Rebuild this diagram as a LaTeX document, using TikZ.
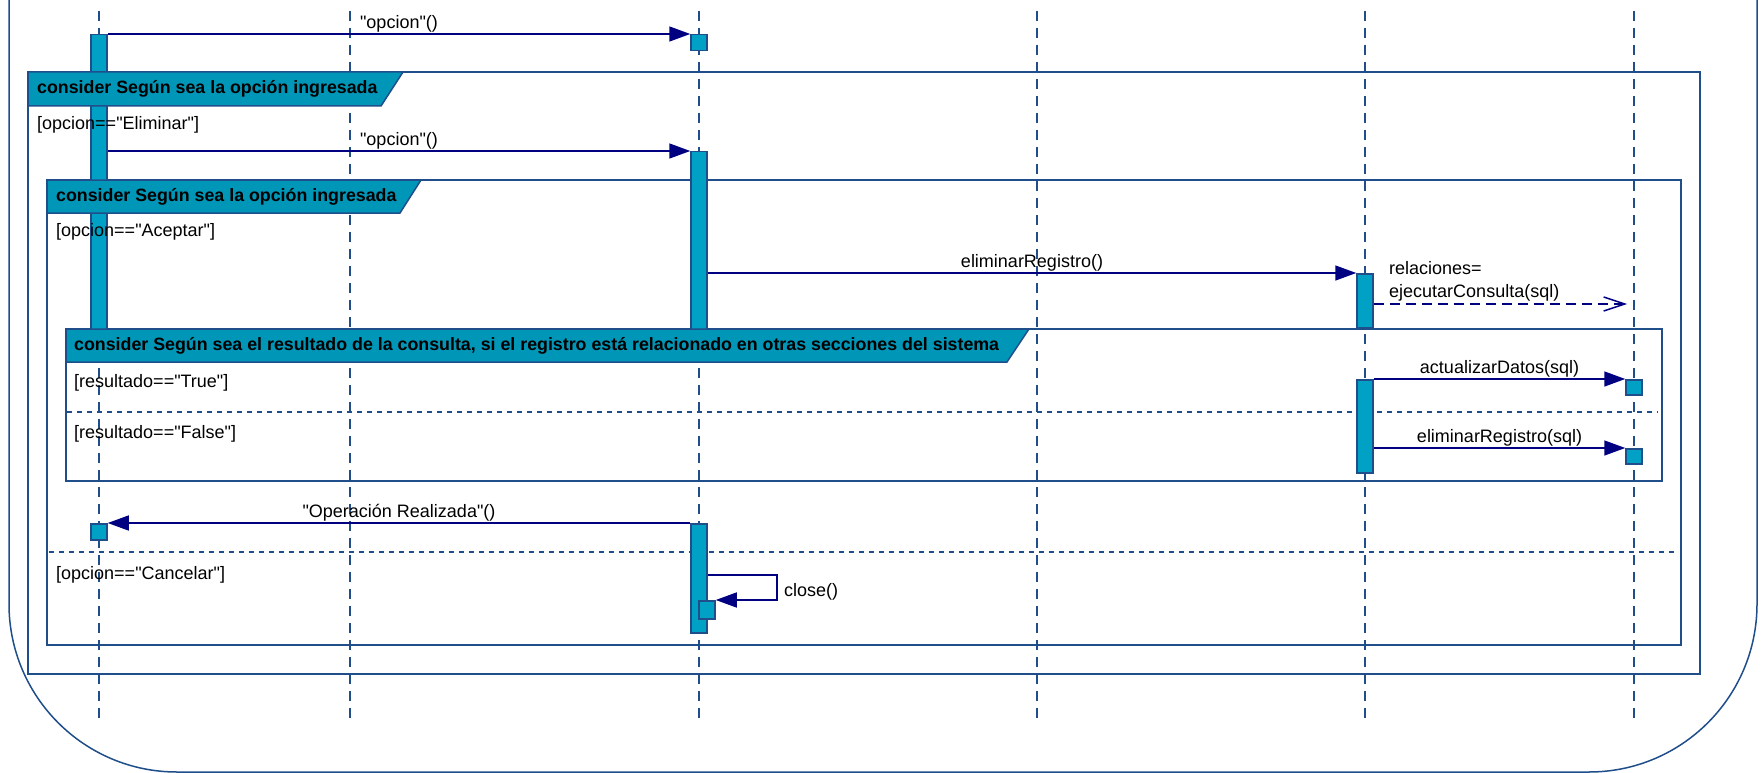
\documentclass[tikz,border=0pt]{standalone}
\usepackage{fontspec}
\setmainfont{Liberation Sans}
\usetikzlibrary{arrows.meta,positioning,calc}
\definecolor{linecol}{RGB}{31,78,138}
\definecolor{msgcol}{RGB}{0,0,128}
\definecolor{actfill}{RGB}{0,161,196}
\definecolor{tabfill}{RGB}{0,150,184}
\newcommand{\q}{\textquotedbl}

\begin{document}
\begin{tikzpicture}[
        x=1pt, y=-1pt,
        font=\fontsize{18}{23}\selectfont,
        lifeline/.style={draw=linecol, line width=1.5pt, dash pattern=on 10pt off 7pt},
        frame/.style={draw=linecol, line width=2pt},
        tab/.style={draw=linecol, line width=1.5pt, fill=tabfill},
        tablbl/.style={anchor=west, inner sep=0pt, font=\fontsize{17.8}{20}\selectfont\bfseries},
        guard/.style={anchor=west, inner sep=0pt},
        sep/.style={draw=linecol, line width=1.5pt, dash pattern=on 5pt off 5pt},
        actbar/.style={draw=linecol, line width=1.5pt, fill=actfill, minimum width=16pt, inner sep=0pt, anchor=north},
        msg/.style={draw=msgcol, line width=1.5pt, -{Triangle[length=21pt,width=15pt]}},
        ret/.style={draw=msgcol, line width=1.5pt, dash pattern=on 10pt off 6pt, -{Straight Barb[length=21pt,width=14pt]}},
        lbl/.style={inner sep=1pt}
    ]
    \useasboundingbox (0,0) rectangle (1762,773);

    % lifelines
    \foreach \n/\x in {1/99, 2/350, 3/699, 4/1037, 5/1365, 6/1634} {
        \coordinate (top\n) at (\x,11);
        \coordinate (bot\n) at (\x,720);
        \draw[lifeline] (top\n) -- (bot\n);
    }

    % outer border and combined fragments
    \draw[frame, line width=1.5pt, rounded corners=168pt] (9,-20) -- (9,772) -- (1757,772) -- (1757,-20);
    \draw[frame] (28,72) rectangle (1700,674);
    \draw[frame] (47,180) rectangle (1681,645);
    \draw[frame] (66,329) rectangle (1662,481);
    \draw[sep] (49,552) -- (1675,552);
    \draw[sep] (67,412) -- (1658,412);

    % activations
    \node[actbar, minimum height=295pt] (act1) at (99,34) {};
    \node[actbar, minimum height=16pt] (box3a) at (699,34) {};
    \node[actbar, minimum height=178pt] (act3) at (699,151) {};
    \node[actbar, minimum height=54pt] (act5a) at (1365,273) {};
    \node[actbar, minimum height=93pt] (act5b) at (1365,379) {};
    \node[actbar, minimum height=15pt] (box6a) at (1634,379) {};
    \node[actbar, minimum height=15pt] (box6b) at (1634,448) {};
    \node[actbar, minimum height=16pt] (box1) at (99,523) {};
    \node[actbar, minimum height=109pt] (act3b) at (699,523) {};
    \node[actbar, minimum height=18pt] (box3b) at (707,600) {};

    % fragment headers
    \draw[tab] (28,72) -- (403,72) -- (381,106) -- (28,106) -- cycle;
    \node[tablbl] (tab1) at (37,89) {consider Según sea la opción ingresada};
    \draw[tab] (47,180) -- (421,180) -- (400,213) -- (47,213) -- cycle;
    \node[tablbl] (tab2) at (56,197) {consider Según sea la opción ingresada};
    \draw[tab] (66,329) -- (1029,329) -- (1007,362) -- (66,362) -- cycle;
    \node[tablbl] (tab3) at (74,346) {consider Según sea el resultado de la consulta, si el registro está relacionado en otras secciones del sistema};

    \node[guard] (g1) at (37,125) {[opcion==\q Eliminar\q]};
    \node[guard] (g2) at (56,232) {[opcion==\q Aceptar\q]};
    \node[guard] (g3) at (74,383) {[resultado==\q True\q]};
    \node[guard] (g4) at (74,434) {[resultado==\q False\q]};
    \node[guard] (g5) at (56,575) {[opcion==\q Cancelar\q]};

    % messages
    \draw[msg] (act1.north east) -- node[lbl, above] (m1) {\q opcion\q()} (box3a.north west);
    \draw[msg] (act1.east |- act3.north) -- node[lbl, above] (m2) {\q opcion\q()} (act3.north west);
    \draw[msg] (act3.east |- act5a.north) -- node[lbl, above] (m3) {eliminarRegistro()} (act5a.north west);
    \coordinate (ret6) at (1627,304);
    \draw[ret] (act5a.east |- ret6) -- (ret6);
    \node[guard, align=left] (m4) at (1389,281) {relaciones=\\ejecutarConsulta(sql)};
    \draw[msg] (act5b.north east) -- node[lbl, above] (m5) {actualizarDatos(sql)} (box6a.north west);
    \draw[msg] (act5b.east |- box6b.north) -- node[lbl, above] (m6) {eliminarRegistro(sql)} (box6b.north west);
    \draw[msg] (act3b.north west) -- node[lbl, above] (m7) {\q Operación Realizada\q()} (box1.north east);
    \coordinate (loop3) at (777,575);
    \draw[msg] (act3b.east |- loop3) -- (loop3) |- (box3b.north east);
    \node[guard] (m8) at (784,592) {close()};
\end{tikzpicture}
\end{document}
